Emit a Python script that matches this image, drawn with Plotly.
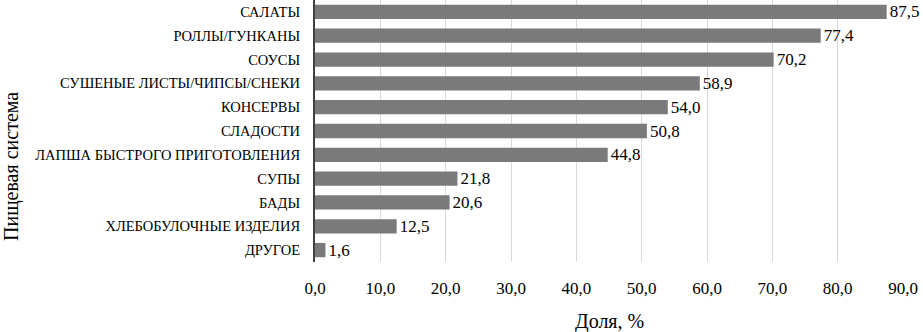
import plotly.graph_objects as go

categories = ["САЛАТЫ", "РОЛЛЫ/ГУНКАНЫ", "СОУСЫ", "СУШЕНЫЕ ЛИСТЫ/ЧИПСЫ/СНЕКИ", "КОНСЕРВЫ",
              "СЛАДОСТИ", "ЛАПША БЫСТРОГО ПРИГОТОВЛЕНИЯ", "СУПЫ", "БАДЫ",
              "ХЛЕБОБУЛОЧНЫЕ ИЗДЕЛИЯ", "ДРУГОЕ"]
values = [87.5, 77.4, 70.2, 58.9, 54.0, 50.8, 44.8, 21.8, 20.6, 12.5, 1.6]
tick_vals = [0, 10, 20, 30, 40, 50, 60, 70, 80, 90]
tick_text = ["0,0", "10,0", "20,0", "30,0", "40,0", "50,0", "60,0", "70,0", "80,0", "90,0"]

font = "'Liberation Serif', 'Times New Roman', serif"
labels = [f"{v:.1f}".replace(".", ",") for v in values]

fig = go.Figure(go.Bar(
    x=values, y=categories, orientation="h",
    marker=dict(color="#7a7a7a", line=dict(width=0)),
    text=labels, textposition="outside", cliponaxis=False, constraintext="none",
    textfont=dict(family=font, size=17, color="#000"),
))
fig.update_layout(
    width=923, height=332,
    margin=dict(l=315, r=20, t=0, b=70),
    paper_bgcolor="white", plot_bgcolor="white",
    bargap=0.4, showlegend=False,
    font=dict(family=font, color="#000"),
    xaxis=dict(range=[0, 90], tickvals=tick_vals, ticktext=tick_text, automargin=False,
               showgrid=True, gridcolor="#d9d9d9", gridwidth=1, zeroline=False,
               tickfont=dict(family=font, size=17), ticks="", ticklabelstandoff=14),
    yaxis=dict(autorange="reversed", showline=True, linecolor="#404040", linewidth=2,
               automargin=False,
               tickfont=dict(family=font, size=14.5), ticks="outside", ticklen=10,
               tickcolor="rgba(0,0,0,0)"),
    annotations=[
        dict(text="Доля, %", xref="paper", yref="paper", x=0.5, y=0, yshift=-59,
             xanchor="center", yanchor="middle", showarrow=False,
             font=dict(family=font, size=20)),
        dict(text="Пищевая система", xref="paper", yref="paper", xshift=-303, x=0, y=0.3626,
             xanchor="center", yanchor="middle", textangle=-90, showarrow=False,
             font=dict(family=font, size=20)),
    ],
)
fig.write_html("out.html", config={"displayModeBar": False},
               post_script="document.body.style.margin='0';document.body.style.padding='0';")
